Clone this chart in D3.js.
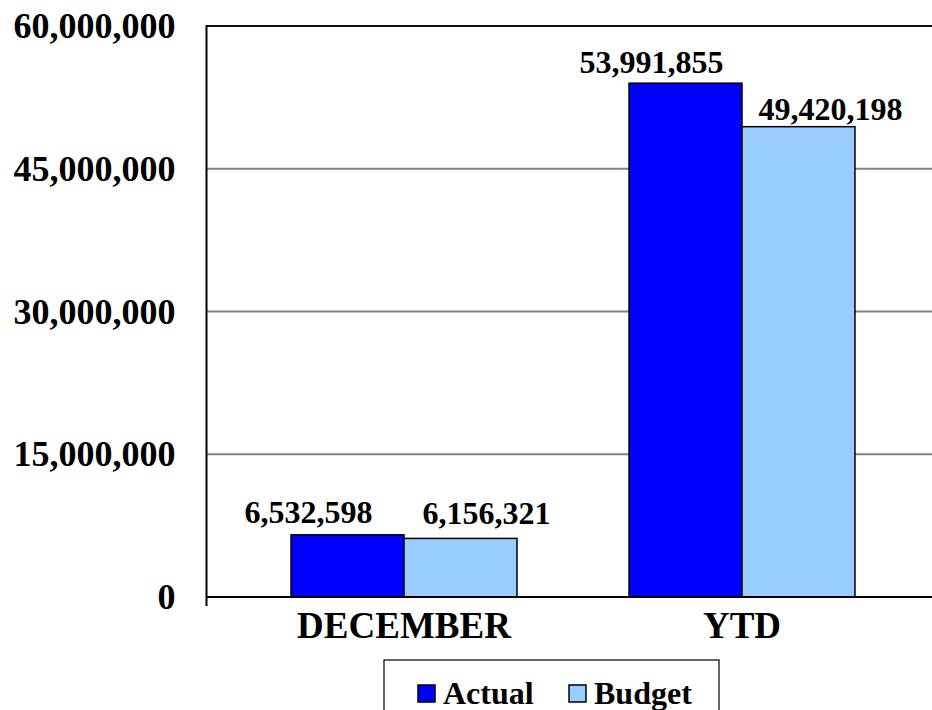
<!DOCTYPE html>
<html>
<head>
<meta charset="utf-8">
<script src="https://cdn.jsdelivr.net/npm/d3@7/dist/d3.min.js"></script>
<style>
  html, body { margin: 0; padding: 0; background: #fff; }
  svg { display: block; }
  text { font-family: "Liberation Serif", "Times New Roman", serif; font-weight: bold; fill: #000; }
</style>
</head>
<body>
<svg id="chart" width="932" height="710"></svg>
<script>
const categories = ["DECEMBER", "YTD"];
const seriesNames = ["Actual", "Budget"];
const actualValues = [6532598, 53991855];
const budgetValues = [6156321, 49420198];
const yTicks = [0, 15000000, 30000000, 45000000, 60000000];
const seriesColors = ["#0000FF", "#99CCFF"];

// label nudges (styling), [series][category] -> [dx, dy relative to bar top]
const labelNudge = [
  [[-39, -12], [-34, -10.5]],
  [[26, -14], [32, -7]]
];

const W = 932, H = 710;
const axisX = 206.5;
const svg = d3.select("#chart");

const y = d3.scaleLinear().domain([0, 60000000]).range([597, 26]);
const x0 = d3.scaleBand().domain(categories).range([235, 911]).padding(0);
const x1 = d3.scaleBand().domain(seriesNames).range([0, x0.bandwidth()]).paddingInner(0).paddingOuter(0.496);

const fmt = d3.format(",");

// gridlines
svg.append("g").selectAll("line").data(yTicks.filter(t => t > 0 && t < 60000000)).join("line")
  .attr("x1", axisX).attr("x2", W)
  .attr("y1", d => y(d)).attr("y2", d => y(d))
  .attr("stroke", "#808080").attr("stroke-width", 2);

// top border
svg.append("line").attr("x1", axisX).attr("x2", W)
  .attr("y1", y(60000000)).attr("y2", y(60000000))
  .attr("stroke", "#111").attr("stroke-width", 2);

// y axis via d3.axisLeft, styled
const yAxis = svg.append("g").attr("transform", `translate(${axisX},0)`)
  .call(d3.axisLeft(y).tickValues(yTicks).tickFormat(fmt).tickSize(0).tickPadding(31));
yAxis.select(".domain").remove();
yAxis.selectAll("text").style("font-size", "36px")
  .style("font-family", '"Liberation Serif", "Times New Roman", serif')
  .style("font-weight", "bold").attr("fill", "#000");

// bars
const data = [actualValues, budgetValues];
const groups = svg.append("g").selectAll("g").data(categories).join("g")
  .attr("transform", c => `translate(${x0(c)},0)`);

groups.selectAll("rect").data((c, ci) => seriesNames.map((s, si) => ({ s, si, ci, v: data[si][ci] })))
  .join("rect")
  .attr("x", d => x1(d.s))
  .attr("width", x1.bandwidth())
  .attr("y", d => y(d.v))
  .attr("height", d => y(0) - y(d.v))
  .attr("fill", d => seriesColors[d.si])
  .attr("stroke", "#000").attr("stroke-width", 1.5);

groups.selectAll("text.val").data((c, ci) => seriesNames.map((s, si) => ({ s, si, ci, v: data[si][ci] })))
  .join("text").attr("class", "val")
  .attr("x", d => x1(d.s) + x1.bandwidth() / 2 + labelNudge[d.si][d.ci][0])
  .attr("y", d => y(d.v) + labelNudge[d.si][d.ci][1])
  .attr("text-anchor", "middle")
  .style("font-size", "32px")
  .text(d => fmt(d.v));

// baseline & left axis line
svg.append("line").attr("x1", axisX).attr("x2", W).attr("y1", y(0)).attr("y2", y(0))
  .attr("stroke", "#000").attr("stroke-width", 2);
svg.append("line").attr("x1", axisX).attr("x2", axisX).attr("y1", y(60000000) - 1).attr("y2", 606)
  .attr("stroke", "#000").attr("stroke-width", 2);

// category labels
svg.append("g").selectAll("text").data(categories).join("text")
  .attr("x", c => x0(c) + x0.bandwidth() / 2)
  .attr("y", 637.5)
  .attr("text-anchor", "middle")
  .style("font-size", "37px")
  .text(c => c);

// legend
const legend = svg.append("g");
legend.append("rect").attr("x", 384).attr("y", 660).attr("width", 335).attr("height", 60)
  .attr("fill", "#fff").attr("stroke", "#000").attr("stroke-width", 1.2);
const legendX = [418, 569];
const items = legend.selectAll("g").data(seriesNames).join("g")
  .attr("transform", (d, i) => `translate(${legendX[i]},685)`);
items.append("rect").attr("width", 17).attr("height", 17)
  .attr("fill", (d, i) => seriesColors[i]).attr("stroke", "#000").attr("stroke-width", 1.5);
items.append("text").attr("x", 25).attr("y", 18.5).style("font-size", "32px").text(d => d);
</script>
</body>
</html>
